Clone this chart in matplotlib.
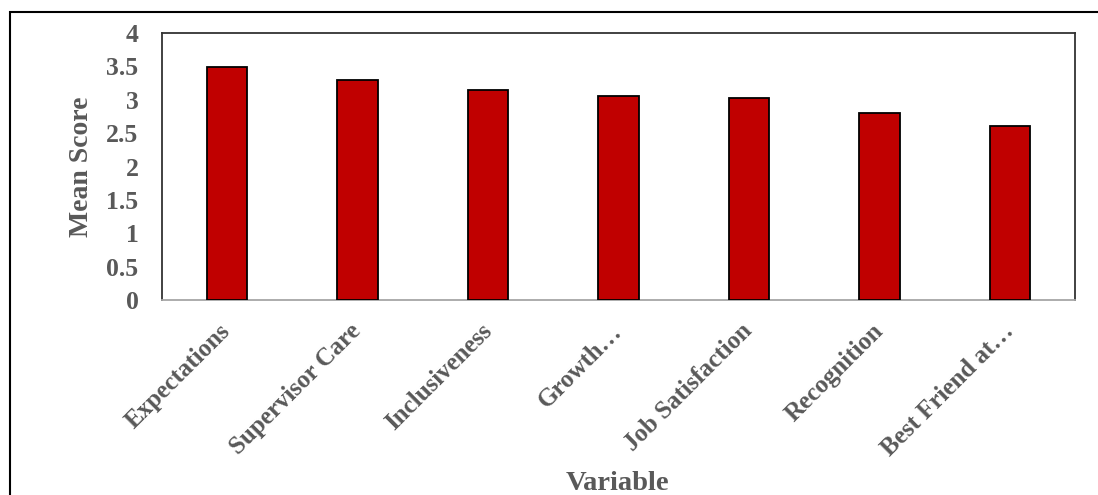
import matplotlib
matplotlib.use("Agg")
import matplotlib.pyplot as plt
from matplotlib.patches import Rectangle

categories = ["Expectations", "Supervisor Care", "Inclusiveness", "Growth\u2026",
              "Job Satisfaction", "Recognition", "Best Friend at\u2026"]
mean_scores = [3.49, 3.30, 3.15, 3.05, 3.03, 2.80, 2.61]
y_ticks = [0, 0.5, 1, 1.5, 2, 2.5, 3, 3.5, 4]
y_tick_labels = ["0", "0.5", "1", "1.5", "2", "2.5", "3", "3.5", "4"]

plt.rcParams['font.family'] = ['Liberation Serif', 'DejaVu Serif']
plt.rcParams['font.weight'] = 'bold'
text_gray = '#595959'

fig = plt.figure(figsize=(10.98, 4.95), dpi=100)
ax = fig.add_axes([162 / 1098, 1 - 300 / 495, (1075 - 162) / 1098, (300 - 33) / 495])

x = range(len(categories))
ax.bar(x, mean_scores, width=0.31, color='#C00000', edgecolor='black', linewidth=1.3, zorder=3)

ax.set_xlim(-0.5, len(categories) - 0.5)
ax.set_ylim(0, 4)
ax.set_yticks(y_ticks)
ax.set_yticklabels(y_tick_labels, fontsize=18.5, color=text_gray, fontweight='bold')
ax.set_xticks(list(x))
ax.set_xticklabels(categories, rotation=45, ha='right', va='center', rotation_mode='anchor',
                   fontsize=18, color=text_gray, fontweight='bold')
ax.tick_params(axis='both', length=0)
ax.tick_params(axis='y', pad=17)
ax.tick_params(axis='x', pad=20)

for side in ['left', 'top', 'right']:
    ax.spines[side].set_color('#333333')
    ax.spines[side].set_linewidth(1.3)
ax.spines['bottom'].set_color('#A6A6A6')
ax.spines['bottom'].set_linewidth(1.3)

fig.text(82 / 1098, 1 - 167 / 495, 'Mean Score', rotation=90, ha='center', va='center',
         fontsize=20, color=text_gray, fontweight='bold')
fig.text(617 / 1098, 1 - 484 / 495, 'Variable', ha='center', va='center',
         fontsize=20.5, color=text_gray, fontweight='bold')

# outer frame (only left and top edges fall inside the picture)
fig.patches.append(Rectangle((10 / 1098, -0.05), 1.2, 1 - 12 / 495 + 0.05,
                             transform=fig.transFigure, fill=False,
                             edgecolor='black', linewidth=1.5))

fig.savefig('out.png', dpi=100)
